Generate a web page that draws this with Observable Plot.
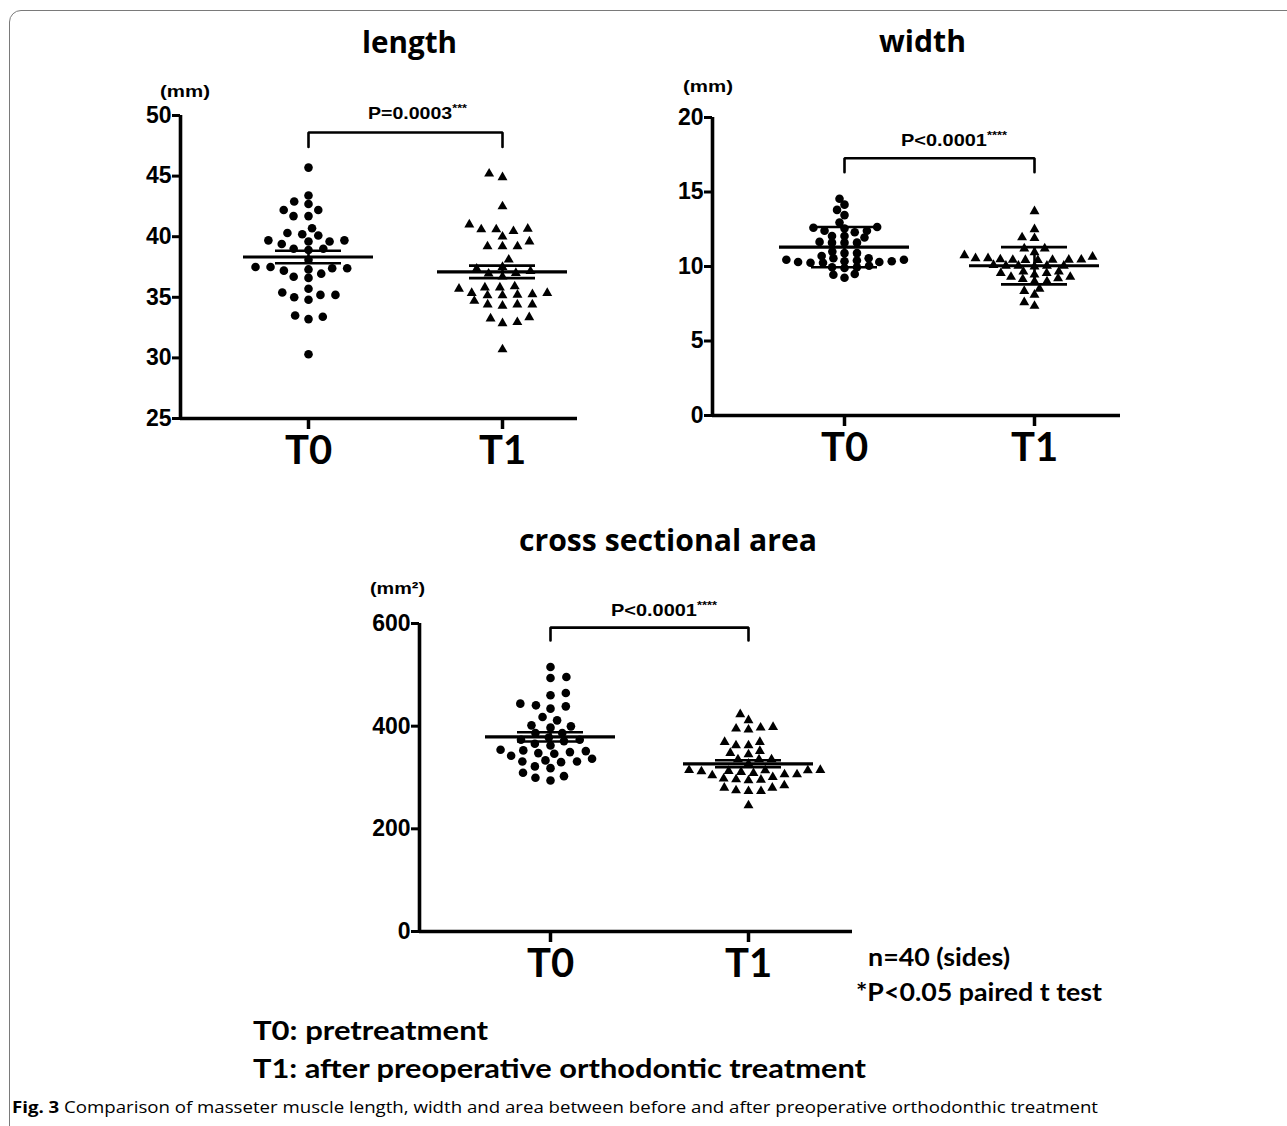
<!DOCTYPE html>
<html><head><meta charset="utf-8">
<script src="https://cdn.jsdelivr.net/npm/d3@7"></script>
<script src="https://cdn.jsdelivr.net/npm/@observablehq/plot@0.6"></script>
<style>
html,body{margin:0;padding:0;background:#fff;}
#page{position:relative;width:1287px;height:1126px;overflow:hidden;background:#fff;}
.frame{position:absolute;left:9px;top:10px;width:1320px;height:1200px;border:1.5px solid #7a7a7a;border-radius:12px;box-sizing:border-box;}
.panel{position:absolute;}
#overlay{position:absolute;left:0;top:0;}
</style></head><body><div id="page"><div class="frame"></div></div>
<script>
const GROUPS = ["T0", "T1"];

const LENGTH_T0 = [45.7, 43.4, 42.9, 42.7, 42.2, 42.2, 41.7, 41.7, 40.7, 40.3, 40.2, 40.1, 39.7, 39.7, 39.6, 39.6, 39.4, 39.0, 38.9, 39.0, 38.1, 37.5, 37.3, 37.2, 37.4, 37.4, 37.5, 36.7, 36.6, 36.95, 35.7, 35.4, 35.2, 34.8, 35.0, 35.2, 33.4, 33.2, 33.5, 30.3];
const LENGTH_T1 = [45.2, 44.9, 42.5, 40.65, 40.6, 40.45, 40.6, 41.0, 40.0, 39.2, 39.2, 39.2, 39.6, 38.1, 37.5, 37.15, 37.35, 36.95, 36.7, 37.0, 35.9, 35.8, 35.7, 35.8, 35.35, 35.25, 35.15, 35.15, 35.2, 35.35, 34.7, 34.4, 34.3, 34.4, 34.4, 33.35, 32.95, 32.85, 33.25, 30.7];

const WIDTH_T0 = [14.55, 14.15, 13.8, 13.45, 12.95, 12.6, 12.55, 12.65, 12.4, 12.05, 11.95, 12.05, 12.3, 12.4, 11.6, 11.6, 11.65, 11.6, 10.9, 10.7, 10.55, 10.45, 10.4, 10.35, 10.3, 10.25, 10.25, 10.3, 10.35, 10.45, 10.55, 10.9, 11.0, 10.05, 9.9, 9.95, 9.95, 9.5, 9.45, 9.25];
const WIDTH_T1 = [13.7, 12.5, 11.9, 11.95, 11.2, 11.2, 10.65, 10.55, 10.75, 10.95, 10.42, 10.44, 10.45, 10.46, 10.44, 10.43, 10.47, 10.55, 10.05, 10.05, 10.05, 10.05, 10.0, 10.1, 9.65, 9.55, 9.45, 9.3, 9.3, 9.55, 9.65, 9.15, 9.0, 9.0, 9.2, 8.5, 8.35, 8.1, 7.6, 7.35];

const AREA_T0 = [515.3, 493.9, 495.8, 460.1, 464.6, 440.6, 434.1, 438.6, 443.9, 417.8, 411.3, 401.6, 397.1, 399.6, 386.5, 386.5, 373.6, 365.8, 370.9, 373.6, 378, 362.5, 349.5, 346.3, 354.1, 351.4, 352.8, 342.4, 347.5, 336.6, 331.3, 329.9, 331.3, 333.3, 318.2, 321.6, 309.3, 302.6, 299.5, 294.2];
const AREA_T1 = [423, 411.3, 397.1, 395.1, 393.2, 398.2, 369, 362.5, 369, 362.5, 347.5, 345, 351.4, 335.2, 335.2, 335.2, 326.8, 314.5, 313.8, 312.5, 310.6, 306, 304, 306, 308.5, 311.8, 313.8, 314.2, 295.6, 300.7, 296.2, 294.2, 297.6, 280, 280, 273.4, 274.7, 273.4, 284.5, 245.5];

const LENGTH_TICKS = [25, 30, 35, 40, 45, 50];
const WIDTH_TICKS = [0, 5, 10, 15, 20];
const AREA_TICKS = [0, 200, 400, 600];

// bracket [top, drop] in data units
const LENGTH_BRACKET = [48.6, 47.4];
const WIDTH_BRACKET = [17.27, 16.33];
const AREA_BRACKET = [592, 567];

// greedy beeswarm with an elliptical collision zone (Dx wide, Dy tall, in px)
function swarm(values, yPx, Dx, Dy) {
  const items = values.map((v, i) => ({v, i, py: yPx(v)})).sort((a, b) => a.v - b.v);
  const placed = [], dx = new Array(values.length);
  items.forEach((p, n) => {
    const iv = [];
    for (const q of placed) {
      const d = Math.abs(q.py - p.py);
      if (d < Dy) { const h = Dx * Math.sqrt(1 - (d / Dy) ** 2); iv.push([q.x - h, q.x + h]); }
    }
    const pref = n % 2 ? -1 : 1;
    const cands = [0, ...iv.flat()].sort((a, b) => (Math.abs(a) - Math.abs(b)) || (pref * (b - a)));
    const x = cands.find(c => iv.every(([a, b]) => c <= a + 1e-6 || c >= b - 1e-6));
    p.x = x; placed.push(p); dx[p.i] = x;
  });
  return dx;
}

function panel(cfg) {
  const {left, top, width, height, axisLeft, axisRight, axisTop, axisBottom, t0x, t1x, yDomain, yTicks, t0, t1, err, bracket, Dx, Dy} = cfg;
  const ppu = t1x - t0x;
  const xDomain = [(axisLeft - t0x) / ppu, (axisRight - t0x) / ppu];
  const marginLeft = axisLeft - left, marginRight = left + width - axisRight;
  const marginTop = axisTop - top, marginBottom = top + height - axisBottom;
  const yPx = d3.scaleLinear(yDomain, [axisBottom - top, axisTop - top]);
  const rows = [];
  [t0, t1].forEach((vals, g) => {
    const dx = swarm(vals, yPx, Dx[g], Dy);
    vals.forEach((v, i) => rows.push({g, value: v, x: g + dx[i] / ppu}));
  });
  const summary = [t0, t1].map((vals, g) => {
    const m = d3.mean(vals), sd = d3.deviation(vals);
    const e = err === "sd" ? sd : sd / Math.sqrt(vals.length);
    return {g, mean: m, lo: m - e, hi: m + e};
  });
  const meanHalf = 65 / ppu, capHalf = 33 / ppu;
  const br = [{x: 0, y: bracket[1]}, {x: 0, y: bracket[0]}, {x: 1, y: bracket[0]}, {x: 1, y: bracket[1]}];
  const svg = Plot.plot({
    width, height, marginLeft, marginRight, marginTop, marginBottom,
    x: {domain: xDomain}, y: {domain: yDomain},
    style: {fontFamily: "Liberation Sans, Arial, sans-serif", fontWeight: "bold", fontSize: "23px", color: "black", background: "transparent", overflow: "visible"},
    marks: [
      Plot.axisY({ticks: yTicks, tickSize: 8, tickPadding: 1, strokeWidth: 3, label: null, fontSize: 23, fontWeight: "bold"}),
      Plot.axisX({ticks: [0, 1], tickFormat: i => GROUPS[i], tickSize: 11, tickPadding: 6, strokeWidth: 3.5, label: null, fontSize: 40, fontFamily: "Lato", fontWeight: "bold"}),
      Plot.dot(rows.filter(d => d.g === 0), {x: "x", y: "value", symbol: "circle", r: 4.3, fill: "black", stroke: "none"}),
      Plot.dot(rows.filter(d => d.g === 1), {x: "x", y: "value", symbol: "triangle", r: 3.7, fill: "black", stroke: "none"}),
      Plot.ruleY(summary, {y: "mean", x1: d => d.g - meanHalf, x2: d => d.g + meanHalf, strokeWidth: 3.2}),
      Plot.ruleY(summary, {y: "hi", x1: d => d.g - capHalf, x2: d => d.g + capHalf, strokeWidth: 2.6}),
      Plot.ruleY(summary, {y: "lo", x1: d => d.g - capHalf, x2: d => d.g + capHalf, strokeWidth: 2.6}),
      Plot.ruleX(summary, {x: "g", y1: "lo", y2: "hi", strokeWidth: 2.6}),
      Plot.line(br, {x: "x", y: "y", strokeWidth: 2.6, strokeLinejoin: "miter"}),
      Plot.ruleX([xDomain[0]], {strokeWidth: 3.6}),
      Plot.ruleY([yDomain[0]], {x1: xDomain[0], x2: xDomain[1], strokeWidth: 3.6})
    ]
  });
  svg.classList.add("panel");
  svg.style.left = left + "px";
  svg.style.top = top + "px";
  document.getElementById("page").appendChild(svg);
}

panel({left: 100, top: 100, width: 500, height: 380, axisLeft: 180, axisRight: 577, axisTop: 115, axisBottom: 418,
  t0x: 308, t1x: 502, yDomain: [25, 50], yTicks: LENGTH_TICKS, t0: LENGTH_T0, t1: LENGTH_T1, err: "sem", bracket: LENGTH_BRACKET, Dx: [15, 15], Dy: 8});
panel({left: 630, top: 100, width: 500, height: 380, axisLeft: 712, axisRight: 1120, axisTop: 117, axisBottom: 415,
  t0x: 844, t1x: 1034, yDomain: [0, 20], yTicks: WIDTH_TICKS, t0: WIDTH_T0, t1: WIDTH_T1, err: "sd", bracket: WIDTH_BRACKET, Dx: [12.5, 12.5], Dy: 6.5});
panel({left: 330, top: 600, width: 540, height: 400, axisLeft: 419, axisRight: 852, axisTop: 623, axisBottom: 931,
  t0x: 550, t1x: 748, yDomain: [0, 600], yTicks: AREA_TICKS, t0: AREA_T0, t1: AREA_T1, err: "sem", bracket: AREA_BRACKET, Dx: [16, 12.5], Dy: 8});

// text overlay
const T = (x, y, w, font, content) => `<text x="${x}" y="${y}" textLength="${w}" lengthAdjust="spacingAndGlyphs" style="font:${font}">${content}</text>`;
const titleFont = "bold 31px 'Open Sans', sans-serif";
const unitFont = "bold 17px 'Liberation Sans', Arial, sans-serif";
const pFont = "bold 17px 'Liberation Sans', Arial, sans-serif";
const star = s => `<tspan dy="-7" style="font-size:11px">${s}</tspan>`;
const noteFont = "bold 25px Lato, sans-serif";
const overlay = `<svg id="overlay" width="1287" height="1126" xmlns="http://www.w3.org/2000/svg">
${T(362, 53, 95, titleFont, "length")}
${T(879, 52, 87, titleFont, "width")}
${T(519, 551, 298, titleFont, "cross sectional area")}
${T(160, 97, 50, unitFont, "(mm)")}
${T(683, 92, 50, unitFont, "(mm)")}
${T(370, 594, 55, unitFont, "(mm²)")}
${T(368, 119, 99, pFont, "P=0.0003" + star("***"))}
${T(901, 146, 106, pFont, "P&lt;0.0001" + star("****"))}
${T(611, 616, 106, pFont, "P&lt;0.0001" + star("****"))}
${T(868, 966, 142, noteFont, "n=40 (sides)")}
${T(856, 1001, 246, noteFont, "*P&lt;0.05 paired t test")}
${T(253, 1040, 235, "bold 27px Lato, sans-serif", "T0: pretreatment")}
${T(253, 1078, 613, "bold 27px Lato, sans-serif", "T1: after preoperative orthodontic treatment")}
${T(12, 1113, 1086, "16px 'Open Sans', sans-serif", "<tspan style='font-weight:bold'>Fig. 3</tspan>  Comparison of masseter muscle length, width and area between before and after preoperative orthodonthic treatment")}
</svg>`;
document.getElementById("page").insertAdjacentHTML("beforeend", overlay);
</script></body></html>
